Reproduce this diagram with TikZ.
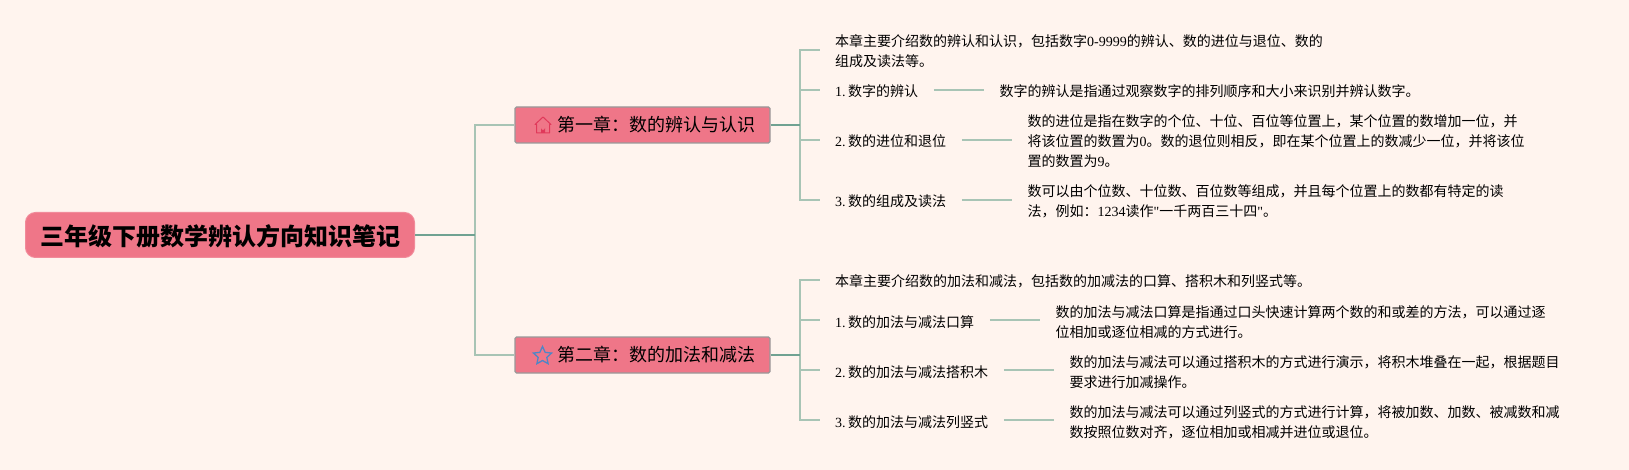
\documentclass[tikz,border=0pt]{standalone}
\usepackage{fontspec}
\setmainfont{Noto Sans CJK SC}
\newfontfamily\lat{Liberation Serif}
\usetikzlibrary{shapes.geometric}
\definecolor{bgc}{HTML}{FFF4EE}
\definecolor{pinkc}{HTML}{EF7688}
\definecolor{thickc}{HTML}{70A292}
\definecolor{thinc}{HTML}{A8C4B5}
\definecolor{houseC}{HTML}{E0395A}
\definecolor{starC}{HTML}{4F86C6}
\newcommand\tx[1]{\raisebox{-3pt}[\height][\depth]{\begin{tabular}{@{}l@{}}#1\end{tabular}}}
\newcommand\nn[1]{{\lat #1}}
\tikzset{
  rootbox/.style={fill=pinkc,draw=pinkc!85!white,line width=1pt,rounded corners=10pt,minimum width=389pt,minimum height=45pt,inner sep=0pt,font=\fontsize{24}{28}\selectfont\bfseries},
  chbox/.style={fill=pinkc,draw=black!40,line width=1.2pt,rounded corners=1.5pt,minimum width=255pt,minimum height=36pt,inner sep=0pt,font=\fontsize{18}{22}\selectfont},
  leaf/.style={anchor=west,inner xsep=15.5pt,inner ysep=0pt,font=\fontsize{14}{20}\selectfont},
  thickl/.style={draw=thickc,line width=1.6pt},
  thinl/.style={draw=thinc,line width=1.4pt},
}
\begin{document}
\begin{tikzpicture}[x=1pt,y=-1pt]
\fill[bgc] (0,0) rectangle (1629,470);
\useasboundingbox (0,0) rectangle (1629,470);
% junctions
\coordinate (t0) at (475,235);
\coordinate (t1) at (800,125);
\coordinate (t2) at (800,355);
% main nodes
\node[rootbox] (root) at (220,235) {\raisebox{-1pt}[\height][\depth]{三年级下册数学辨认方向知识笔记}};
\node[chbox] (ch1) at (642.5,125) {\hspace*{27pt}第一章：数的辨认与认识};
\node[chbox] (ch2) at (642.5,355) {\hspace*{27pt}第二章：数的加法和减法};
% chapter 1 leaves
\node[leaf] (a0) at (819.5,50) {\tx{本章主要介绍数的辨认和认识，包括数字\nn{0-9999}的辨认、数的进位与退位、数的\\组成及读法等。}};
\node[leaf] (a1) at (819.5,90) {\tx{\nn{1.\kern2.5pt}数字的辨认}};
\node[leaf] (a2) at (819.5,140) {\tx{\nn{2.\kern2.5pt}数的进位和退位}};
\node[leaf] (a3) at (819.5,200) {\tx{\nn{3.\kern2.5pt}数的组成及读法}};
\node[leaf] (d1) at (984,90) {\tx{数字的辨认是指通过观察数字的排列顺序和大小来识别并辨认数字。}};
\node[leaf] (d2) at (1012,140) {\tx{数的进位是指在数字的个位、十位、百位等位置上，某个位置的数增加一位，并\\将该位置的数置为\nn{0}。数的退位则相反，即在某个位置上的数减少一位，并将该位\\置的数置为\nn{9}。}};
\node[leaf] (d3) at (1012,200) {\tx{数可以由个位数、十位数、百位数等组成，并且每个位置上的数都有特定的读\\法，例如：\nn{1234}读作\nn{"}一千两百三十四\nn{"}。}};
% chapter 2 leaves
\node[leaf] (b0) at (819.5,280) {\tx{本章主要介绍数的加法和减法，包括数的加减法的口算、搭积木和列竖式等。}};
\node[leaf] (b1) at (819.5,320) {\tx{\nn{1.\kern2.5pt}数的加法与减法口算}};
\node[leaf] (b2) at (819.5,370) {\tx{\nn{2.\kern2.5pt}数的加法与减法搭积木}};
\node[leaf] (b3) at (819.5,420) {\tx{\nn{3.\kern2.5pt}数的加法与减法列竖式}};
\node[leaf] (e1) at (1040,320) {\tx{数的加法与减法口算是指通过口头快速计算两个数的和或差的方法，可以通过逐\\位相加或逐位相减的方式进行。}};
\node[leaf] (e2) at (1054,370) {\tx{数的加法与减法可以通过搭积木的方式进行演示，将积木堆叠在一起，根据题目\\要求进行加减操作。}};
\node[leaf] (e3) at (1054,420) {\tx{数的加法与减法可以通过列竖式的方式进行计算，将被加数、加数、被减数和减\\数按照位数对齐，逐位相加或相减并进位或退位。}};
% connectors
\draw[thinl] (t0) |- (ch1.west);
\draw[thinl] (t0) |- (ch2.west);
\draw[thickl] (root.east) -- (t0);
\foreach \n in {a0,a1,a2,a3} \draw[thinl] (t1) |- (\n.west);
\foreach \n in {b0,b1,b2,b3} \draw[thinl] (t2) |- (\n.west);
\draw[thickl] (ch1.east) -- (t1);
\draw[thickl] (ch2.east) -- (t2);
\draw[thinl] (a1) -- (d1);
\draw[thinl] (a2) -- (d2);
\draw[thinl] (a3) -- (d3);
\draw[thinl] (b1) -- (e1);
\draw[thinl] (b2) -- (e2);
\draw[thinl] (b3) -- (e3);
% icons
\draw[houseC,line width=1pt,line join=round] (535,124.5) -- (543,117) -- (551,124.5) -- (549.5,124.5) -- (549.5,133) -- (536.5,133) -- (536.5,124.5) -- cycle;
\fill[houseC] (541,133) -- (541,128) arc[start angle=180,end angle=0,radius=2] -- (545,133) -- cycle;
\node[star,star points=5,star point ratio=2.1,draw=starC,line width=1.3pt,minimum size=19pt,inner sep=0pt] (starIcon) at (542.5,356) {};
\end{tikzpicture}
\end{document}
